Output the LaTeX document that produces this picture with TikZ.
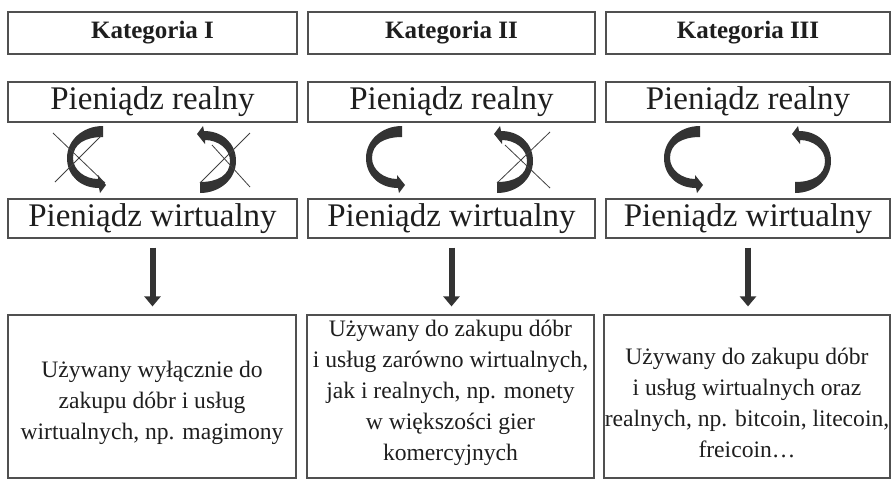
\documentclass[tikz,border=0pt]{standalone}
\usepackage{fontspec}
\setmainfont{Liberation Serif}
\usetikzlibrary{arrows.meta}
\definecolor{boxline}{HTML}{505050}
\definecolor{txt}{HTML}{1E1E1E}
\definecolor{arrowfill}{HTML}{333333}
\tikzset{
  box/.style={draw=boxline, line width=1.2pt, rectangle, inner sep=0pt, text=txt,
    font=\fontsize{33}{36}\selectfont},
  hbox/.style={box, font=\fontsize{25}{30}\selectfont\bfseries},
  bodytext/.style={align=center, text=txt, inner sep=0pt, font=\fontsize{23.6}{31}\selectfont},
  downarr/.style={draw=arrowfill, line width=6pt, -{Triangle[width=16pt,length=10pt]}},
  crossline/.style={draw=black!75, line width=0.8pt},
  carrow/.pic={
    \fill[arrowfill] (0,-32) .. controls (-20,-32) and (-36,-18) .. (-36,0)
      .. controls (-36,18) and (-22,30) .. (-4,30) -- (-3,35) -- (3,27) -- (-5,17) -- (-5,21)
      .. controls (-18,21) and (-30,12) .. (-30,0)
      .. controls (-30,-14) and (-18,-21) .. (0,-21) -- cycle;
  }
}
\begin{document}
\begin{tikzpicture}[x=1pt,y=-1pt]
\useasboundingbox (0,0) rectangle (891,480);
% headers
\node[hbox, minimum width=289pt, minimum height=42pt] (h1) at (152.5,33) {Kategoria I};
\node[hbox, minimum width=287pt, minimum height=42pt] (h2) at (451.5,33) {Kategoria II};
\node[hbox, minimum width=284pt, minimum height=42pt] (h3) at (748,33) {Kategoria III};
% real money
\node[box, minimum width=289pt, minimum height=40pt] (r1) at (152.5,102) {Pieniądz realny};
\node[box, minimum width=287pt, minimum height=40pt] (r2) at (451.5,102) {Pieniądz realny};
\node[box, minimum width=284pt, minimum height=40pt] (r3) at (748,102) {Pieniądz realny};
% virtual money
\node[box, minimum width=289pt, minimum height=39pt] (v1) at (152.5,218.5) {Pieniądz wirtualny};
\node[box, minimum width=287pt, minimum height=39pt] (v2) at (451.5,218.5) {Pieniądz wirtualny};
\node[box, minimum width=284pt, minimum height=39pt] (v3) at (748,218.5) {Pieniądz wirtualny};
% bottom boxes
\node[box, minimum width=288pt, minimum height=163pt] (b1) at (152,396.5) {};
\node[box, minimum width=287pt, minimum height=163pt] (b2) at (450.5,396.5) {};
\node[box, minimum width=286pt, minimum height=163pt] (b3) at (747,396.5) {};
\node[bodytext] (t1) at (152,403) {Używany wyłącznie do\\zakupu dóbr i usług\\wirtualnych, np. magimony};
\node[bodytext] (t2) at (450.5,393) {Używany do zakupu dóbr\\i usług zarówno wirtualnych,\\jak i realnych, np. monety\\w większości gier\\komercyjnych};
\node[bodytext] (t3) at (747,403) {Używany do zakupu dóbr\\i usług wirtualnych oraz\\realnych, np. bitcoin, litecoin,\\freicoin…};
% down arrows
\draw[downarr, shorten <=9pt, shorten >=8pt] (v1.south) -- (b1.north -| v1.south);
\draw[downarr, shorten <=9pt, shorten >=8pt] (v2.south) -- (b2.north -| v2.south);
\draw[downarr, shorten <=9pt, shorten >=8pt] (v3.south) -- (b3.north -| v3.south);
% curved arrows
\pic (c1l) at (103,158) {carrow};
\pic[rotate=180] (c1r) at (200,161) {carrow};
\pic (c2l) at (402,158) {carrow};
\pic[rotate=180] (c2r) at (497,161) {carrow};
\pic (c3l) at (700,158) {carrow};
\pic[rotate=180] (c3r) at (795,161) {carrow};
% crosses
\draw[crossline] (53,133) -- (105,183);
\draw[crossline] (55,182) -- (102,135);
\draw[crossline] (200,183) -- (250,133);
\draw[crossline] (212,145) -- (250,187);
\draw[crossline] (497,183) -- (550,132);
\draw[crossline] (505,145) -- (550,188);
\end{tikzpicture}
\end{document}
